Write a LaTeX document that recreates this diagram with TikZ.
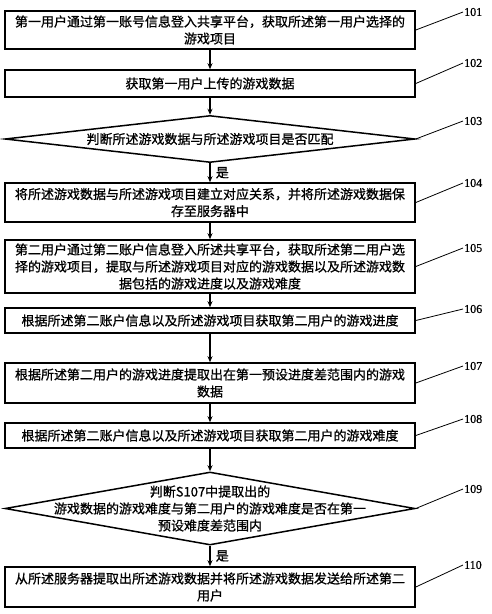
\documentclass[tikz,border=0pt]{standalone}
\usepackage{fontspec}
\newfontfamily\cjk[FakeBold=0.9]{Noto Sans CJK SC}
\newfontfamily\numfont[FakeBold=0.8]{Liberation Serif}
\usetikzlibrary{arrows.meta,shapes.geometric}
\tikzset{
  box/.style={draw, line width=1.6pt, minimum width=410pt, text width=408pt, align=center, inner sep=0pt,
    font=\cjk\fontsize{13}{17}\selectfont},
  dia/.style={draw, diamond, line width=1.5pt, minimum width=410pt, inner sep=0pt},
  diatext/.style={align=center, inner sep=0pt, font=\cjk\fontsize{13}{17}\selectfont},
  flow/.style={line width=1.6pt, -{Stealth[length=6pt,width=5pt]}},
  lead/.style={line width=0.8pt},
  lab/.style={font=\numfont\fontsize{12}{14}\selectfont, inner sep=1pt, anchor=west},
  yes/.style={font=\cjk\fontsize{13}{15}\selectfont, inner sep=0pt}
}
\begin{document}
\begin{tikzpicture}[x=1pt,y=-1pt]
\useasboundingbox[fill=white] (0,0) rectangle (491,614);

\node[box, minimum height=38pt] (b101) at (210,30) {第一用户通过第一账号信息登入共享平台，获取所述第一用户选择的\\游戏项目};
\node[box, minimum height=27pt] (b102) at (210,83.5) {获取第一用户上传的游戏数据};
\node[dia, minimum height=47pt] (d103) at (210,139) {};
\node[diatext] (t103) at (d103.center) {判断所述游戏数据与所述游戏项目是否匹配};
\node[box, minimum height=39pt] (b104) at (210,202.5) {将所述游戏数据与所述游戏项目建立对应关系，并将所述游戏数据保\\存至服务器中};
\node[box, minimum height=53pt] (b105) at (210,266.5) {第二用户通过第二账户信息登入所述共享平台，获取所述第二用户选\\择的游戏项目，提取与所述游戏项目对应的游戏数据以及所述游戏数\\据包括的游戏进度以及游戏难度};
\node[box, minimum height=25pt] (b106) at (210,320.5) {根据所述第二账户信息以及所述游戏项目获取第二用户的游戏进度};
\node[box, minimum height=40pt] (b107) at (210,383) {根据所述第二用户的游戏进度提取出在第一预设进度差范围内的游戏\\数据};
\node[box, minimum height=25pt] (b108) at (210,435.5) {根据所述第二账户信息以及所述游戏项目获取第二用户的游戏难度};
\node[dia, minimum height=73pt] (d109) at (210,508.5) {};
\node[diatext] (t109) at (d109.center) {判断S107中提取出的\\游戏数据的游戏难度与第二用户的游戏难度是否在第一\\预设难度差范围内};
\node[box, minimum height=40pt] (b110) at (210,587) {从所述服务器提取出所述游戏数据并将所述游戏数据发送给所述第二\\用户};

\draw[flow] (b101) -- (b102);
\draw[flow] (b102) -- (d103.north);
\draw[flow] (d103.south) -- node[yes, right, xshift=5pt] (y1) {是} (b104);
\draw[flow] (b104) -- (b105);
\draw[flow] (b105) -- (b106);
\draw[flow] (b106) -- (b107);
\draw[flow] (b107) -- (b108);
\draw[flow] (b108) -- (d109.north);
\draw[flow] (d109.south) -- node[yes, right, xshift=5pt] (y2) {是} (b110);

\node[lab] (l101) at (463,12) {101};
\node[lab] (l102) at (463,63) {102};
\node[lab] (l103) at (463,121) {103};
\node[lab] (l104) at (463,183) {104};
\node[lab] (l105) at (463,248) {105};
\node[lab] (l106) at (463,309) {106};
\node[lab] (l107) at (463,366) {107};
\node[lab] (l108) at (463,419) {108};
\node[lab] (l109) at (463,489) {109};
\node[lab] (l110) at (463,565) {110};

\draw[lead] (b101.east) -- (l101.west);
\draw[lead] (b102.east) -- (l102.west);
\draw[lead] (d103.east) -- (l103.west);
\draw[lead] (b104.east) -- (l104.west);
\draw[lead] (b105.east) -- (l105.west);
\draw[lead] (b106.east) -- (l106.west);
\draw[lead] (b107.east) -- (l107.west);
\draw[lead] (b108.east) -- (l108.west);
\draw[lead] (d109.east) -- (l109.west);
\draw[lead] (b110.east) -- (l110.west);
\end{tikzpicture}
\end{document}
